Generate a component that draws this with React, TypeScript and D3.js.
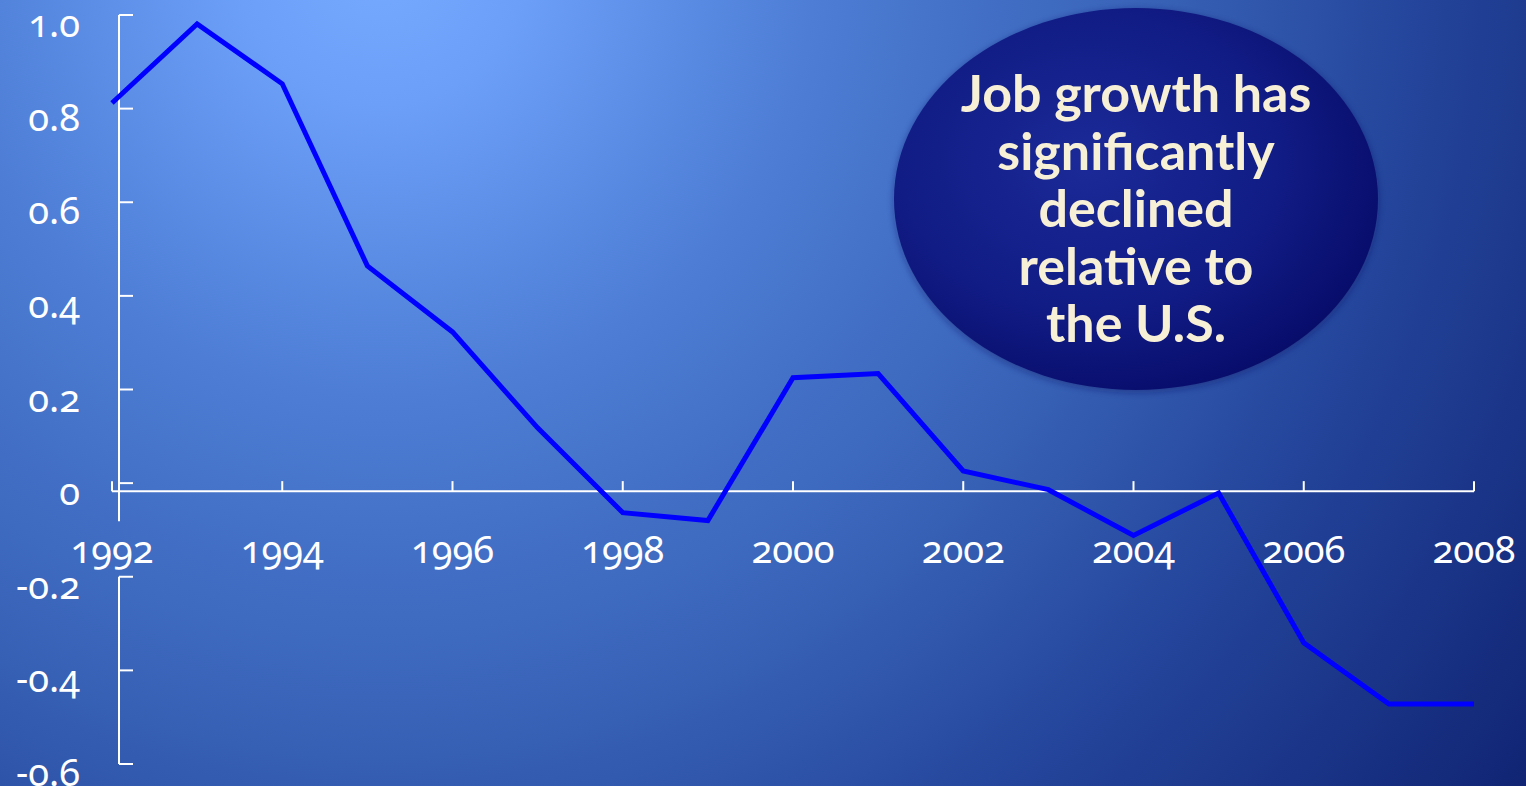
import React from "react";
import * as d3 from "d3";

const years = [1992, 1993, 1994, 1995, 1996, 1997, 1998, 1999, 2000, 2001, 2002, 2003, 2004, 2005, 2006, 2007, 2008];
const values = [0.812, 0.981, 0.853, 0.464, 0.323, 0.118, -0.063, -0.08, 0.225, 0.234, 0.026, -0.014, -0.112, -0.021, -0.341, -0.472, -0.472];
const xTicks = [1992, 1994, 1996, 1998, 2000, 2002, 2004, 2006, 2008];
const yTicks = [1.0, 0.8, 0.6, 0.4, 0.2, 0, -0.2, -0.4, -0.6];
const yTickLabels = ["1.0", "0.8", "0.6", "0.4", "0.2", "0", "-0.2", "-0.4", "-0.6"];
const calloutLines = ["Job growth has", "significantly", "declined", "relative to", "the U.S."];

const W = 1526;
const H = 786;

export default function App() {
  const x = d3.scaleLinear().domain([1992, 2008]).range([112, 1474]);
  const y = d3.scaleLinear().domain([-0.6, 1.0]).range([764, 15]);
  const axisY = y(0) + 8;
  const yAxisX = 119;
  const line = d3
    .line<number>()
    .x((_, i) => x(years[i]))
    .y((d) => y(d));
  const numFont = {
    fontFamily: "'Noto Sans', sans-serif",
    fontSize: 38,
    fill: "#ffffff",
    fontVariantNumeric: "oldstyle-nums",
    fontFeatureSettings: "'onum'",
  } as React.CSSProperties;

  return (
    <svg
      width={W}
      height={H}
      style={{ position: "absolute", left: 0, top: 0, display: "block" }}
    >
      <defs>
        <radialGradient id="bg" gradientUnits="userSpaceOnUse" cx={380} cy={-40} r={1450}>
          <stop offset="0" stopColor="#76aaff" />
          <stop offset="0.1" stopColor="#6c9ff8" />
          <stop offset="0.3" stopColor="#4d7dd5" />
          <stop offset="0.55" stopColor="#3660b4" />
          <stop offset="0.72" stopColor="#23449a" />
          <stop offset="1" stopColor="#0f2170" />
        </radialGradient>
        <radialGradient id="ell" cx="0.4" cy="0.4" r="0.65">
          <stop offset="0" stopColor="#1b2a98" />
          <stop offset="0.6" stopColor="#111c85" />
          <stop offset="1" stopColor="#070c6a" />
        </radialGradient>
        <filter id="glow" x="-10%" y="-10%" width="120%" height="120%">
          <feGaussianBlur stdDeviation="3" />
        </filter>
      </defs>
      <rect x={0} y={0} width={W} height={H} fill="url(#bg)" />

      {/* y axis (broken where x labels sit) */}
      <line x1={yAxisX} x2={yAxisX} y1={y(1.0)} y2={axisY + 30} stroke="#fff" strokeWidth={2} />
      <line x1={yAxisX} x2={yAxisX} y1={y(-0.2)} y2={y(-0.6)} stroke="#fff" strokeWidth={2} />
      {yTicks.map((t) => (
        <line key={"yt" + t} x1={yAxisX} x2={yAxisX + 14} y1={y(t)} y2={y(t)} stroke="#fff" strokeWidth={2} />
      ))}
      {yTicks.map((t, i) => (
        <text key={"yl" + t} x={80} y={y(t) + 22} textAnchor="end" style={numFont}>
          {yTickLabels[i]}
        </text>
      ))}

      {/* x axis */}
      <line x1={x(1992)} x2={x(2008)} y1={axisY} y2={axisY} stroke="#fff" strokeWidth={2} />
      {xTicks.map((t) => (
        <line key={"xt" + t} x1={x(t)} x2={x(t)} y1={axisY} y2={axisY - 10} stroke="#fff" strokeWidth={2} />
      ))}
      {xTicks.map((t) => (
        <text key={"xl" + t} x={x(t)} y={axisY + 72} textAnchor="middle" style={numFont}>
          {String(t)}
        </text>
      ))}

      <path d={line(values) || ""} fill="none" stroke="#0000ff" strokeWidth={5} strokeLinejoin="miter" />

      {/* callout */}
      <ellipse cx={1136} cy={201} rx={243} ry={192} fill="#0a1060" opacity={0.35} filter="url(#glow)" />
      <ellipse cx={1136} cy={199} rx={242} ry={191} fill="url(#ell)" />
      {calloutLines.map((s, i) => (
        <text
          key={s}
          x={1136}
          y={112 + i * 57.5}
          textAnchor="middle"
          style={{ fontFamily: "Lato, sans-serif", fontWeight: 700, fontSize: 52, fill: "#f8f0d6" }}
        >
          {s}
        </text>
      ))}
    </svg>
  );
}
